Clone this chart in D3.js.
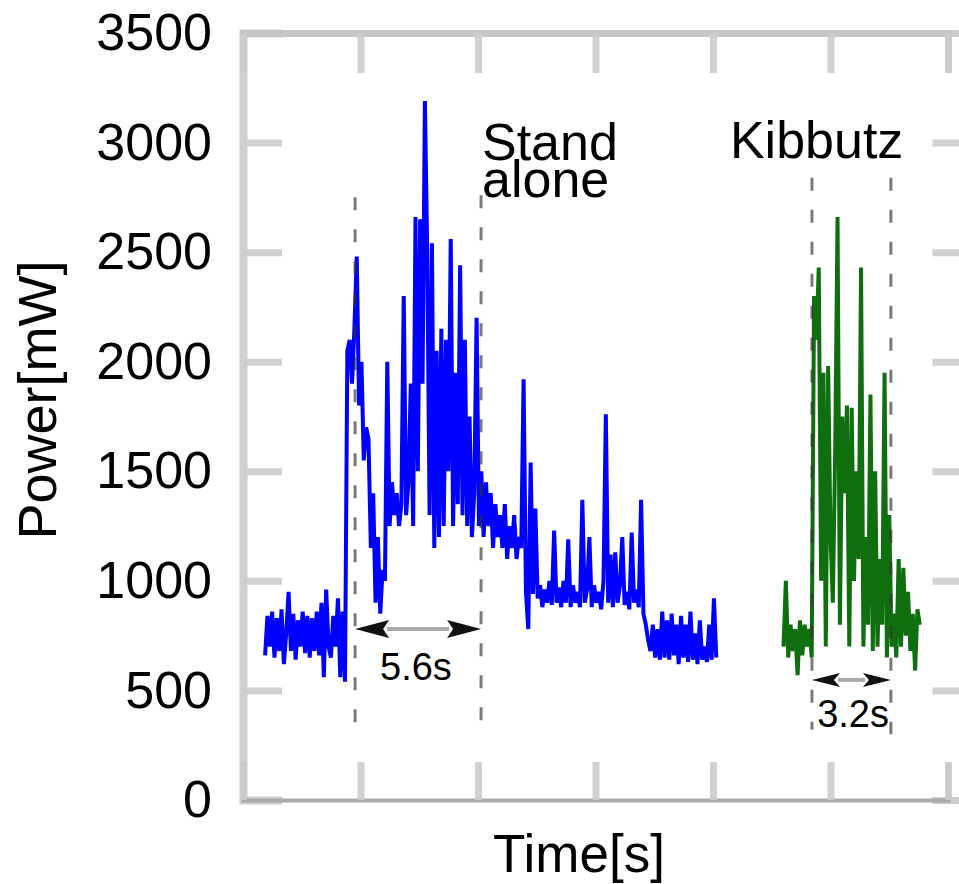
<!DOCTYPE html>
<meta charset="utf-8">
<style>
body { margin: 0; background: #fff; }
text { font-family: "Liberation Sans", Arial, sans-serif; fill: #000; }
</style>
<svg id="chart" width="959" height="884"></svg>
<script src="https://cdnjs.cloudflare.com/ajax/libs/d3/7.8.5/d3.min.js"></script>
<script>
'use strict';

// power samples (mW), one every 0.1 s
var standAloneStart = 0.94;
var kibbutzStart = 23.0;
var sampleStep = 0.1;

var standAlonePower = [
  660, 840, 700, 860, 650, 830, 680, 870, 620, 760,
  950, 680, 850, 640, 820, 700, 860, 670, 840, 650,
  830, 680, 860, 660, 900, 560, 960, 700, 650, 840,
  700, 920, 560, 860, 540, 2050, 2100, 1900, 2150, 2480,
  1800, 2000, 1550, 1700, 1650, 1150, 1400, 900, 1200, 850,
  1050, 1000, 2000, 1250, 1450, 1300, 1400, 1250, 1350, 2300,
  1300, 1450, 1900, 1250, 2660, 1500, 2650, 1900, 3190, 2500,
  1300, 2540, 1150, 2050, 1200, 2150, 1250, 2100, 1500, 2560,
  1250, 1950, 1350, 2440, 1300, 2100, 1250, 1750, 1200, 1400,
  2200, 1250, 1500, 1200, 1450, 1250, 1400, 1150, 1350, 1200,
  1300, 1150, 1350, 1100, 1250, 1150, 1300, 1100, 1200, 1150,
  1920, 950, 780, 1540, 940, 1330, 920, 980, 880, 960,
  900, 1000, 890, 1230, 900, 970, 880, 1000, 900, 1190,
  880, 980, 900, 950, 880, 1370, 900, 960, 1200, 880,
  980, 900, 950, 870, 1000, 1760, 900, 1120, 880, 1130,
  900, 980, 1200, 890, 950, 870, 1220, 900, 960, 880,
  1370, 850, 800, 730, 680, 800, 650, 780, 640, 860,
  650, 820, 640, 850, 660, 800, 620, 840, 650, 800,
  630, 860, 640, 760, 620, 820, 640, 700, 630, 800,
  640, 920, 650
];

var kibbutzPower = [
  700, 1000, 650, 800, 680, 780, 570, 820, 660, 800,
  700, 780, 650, 2300, 2100, 2430, 1000, 1950, 700, 1980,
  1200, 900, 1600, 2660, 800, 1750, 1400, 1800, 700, 1790,
  1000, 1500, 1100, 2430, 700, 1200, 800, 1850, 680, 1500,
  700, 1100, 800, 1950, 650, 1300, 700, 850, 650, 1100,
  700, 1060, 750, 950, 680, 850, 590, 870, 800
];

var yTicks = [0, 500, 1000, 1500, 2000, 2500, 3000, 3500];
var xTicks = [0, 5, 10, 15, 20, 25, 30];

// dashed marker times (s)
var standAloneMarks = [4.77, 10.13];
var kibbutzMarks = [24.21, 27.57];

var svg = d3.select("#chart");

var x = d3.scaleLinear().domain([0, 30]).range([243, 948]);
var y = d3.scaleLinear().domain([0, 3500]).range([800, 33]);
var frameRight = x(31);

var toPoints = function(vals, start) {
  return vals.map(function(v, i) { return [start + i * sampleStep, v]; });
};

var line = d3.line()
  .x(function(d) { return x(d[0]); })
  .y(function(d) { return y(d[1]); });

// frame + inward ticks
var tickColor = "#cccccc";

var axLeft = svg.append("g")
  .attr("transform", "translate(" + x(0) + ",0)")
  .call(d3.axisLeft(y).tickValues(yTicks).tickSize(-39).tickPadding(31).tickFormat(d3.format("d")));

var axRight = svg.append("g")
  .attr("transform", "translate(" + frameRight + ",0)")
  .call(d3.axisRight(y).tickValues(yTicks).tickSize(-39).tickFormat(""));

var axTop = svg.append("g")
  .attr("transform", "translate(0," + y(3500) + ")")
  .call(d3.axisTop(x).tickValues(xTicks).tickSize(-40).tickFormat(""));

var axBottom = svg.append("g")
  .attr("transform", "translate(0," + y(0) + ")")
  .call(d3.axisBottom(x).tickValues(xTicks).tickSize(-38).tickFormat(""));

[axLeft, axRight, axTop, axBottom].forEach(function(g) {
  g.selectAll(".tick line").attr("stroke", tickColor).attr("stroke-width", 7).attr("opacity", 0.9);
  g.select(".domain").attr("stroke", "#c6c6c6").attr("stroke-width", 7);
});
axBottom.select(".domain").attr("stroke", "#aaaaaa").attr("stroke-width", 4);
axLeft.select(".domain").attr("stroke", "#d0d0d0").attr("stroke-width", 8);

axLeft.attr("font-size", 52).attr("font-family", "Liberation Sans, Arial, sans-serif");
axLeft.selectAll(".tick text").attr("fill", "#000");

// power traces
svg.append("path")
  .datum(toPoints(standAlonePower, standAloneStart))
  .attr("fill", "none")
  .attr("stroke", "#0000ff")
  .attr("stroke-width", 4)
  .attr("d", line);

svg.append("path")
  .datum(toPoints(kibbutzPower, kibbutzStart))
  .attr("fill", "none")
  .attr("stroke", "#0f6f0f")
  .attr("stroke-width", 4)
  .attr("d", line);

// dashed markers
var dashed = function(t, v0, v1) {
  svg.append("line")
    .attr("x1", x(t)).attr("x2", x(t))
    .attr("y1", y(v0)).attr("y2", y(v1))
    .attr("stroke", "#333")
    .attr("stroke-opacity", 0.65)
    .attr("stroke-width", 3)
    .attr("stroke-dasharray", "13,19");
};
dashed(standAloneMarks[0], 2750, 330);
dashed(standAloneMarks[1], 2760, 300);
dashed(kibbutzMarks[0], 2840, 320);
dashed(kibbutzMarks[1], 2840, 300);

// double arrows
var arrow = function(t0, t1, v, headLen, headHalf) {
  var x0 = x(t0), x1 = x(t1), yy = y(v);
  var g = svg.append("g");
  g.append("line")
    .attr("x1", x0 + headLen - 2).attr("x2", x1 - headLen + 2)
    .attr("y1", yy).attr("y2", yy)
    .attr("stroke", "#aaaaaa").attr("stroke-width", 4);
  g.append("path")
    .attr("d", "M" + x0 + "," + yy + "L" + (x0 + headLen) + "," + (yy - headHalf) + "L" + (x0 + headLen - 6) + "," + yy + "L" + (x0 + headLen) + "," + (yy + headHalf) + "Z")
    .attr("fill", "#111");
  g.append("path")
    .attr("d", "M" + x1 + "," + yy + "L" + (x1 - headLen) + "," + (yy - headHalf) + "L" + (x1 - headLen + 6) + "," + yy + "L" + (x1 - headLen) + "," + (yy + headHalf) + "Z")
    .attr("fill", "#111");
};
arrow(standAloneMarks[0], standAloneMarks[1], 780, 34, 9);
arrow(kibbutzMarks[0], kibbutzMarks[1], 548, 28, 7);

// texts
svg.append("text")
  .attr("x", x(7.36)).attr("y", y(548))
  .attr("text-anchor", "middle")
  .attr("font-size", 38)
  .text("5.6s");

svg.append("text")
  .attr("x", x(25.96)).attr("y", y(333))
  .attr("text-anchor", "middle")
  .attr("font-size", 38)
  .text("3.2s");

svg.append("text")
  .attr("x", x(10.17)).attr("y", y(2921))
  .attr("font-size", 52)
  .text("Stand");

svg.append("text")
  .attr("x", x(10.17)).attr("y", y(2750))
  .attr("font-size", 52)
  .text("alone");

svg.append("text")
  .attr("x", x(20.72)).attr("y", y(2930))
  .attr("font-size", 52)
  .text("Kibbutz");

svg.append("text")
  .attr("transform", "translate(56,400) rotate(-90)")
  .attr("text-anchor", "middle")
  .attr("font-size", 54)
  .text("Power[mW]");

svg.append("text")
  .attr("x", 579).attr("y", 872)
  .attr("text-anchor", "middle")
  .attr("font-size", 53)
  .text("Time[s]");
</script>
